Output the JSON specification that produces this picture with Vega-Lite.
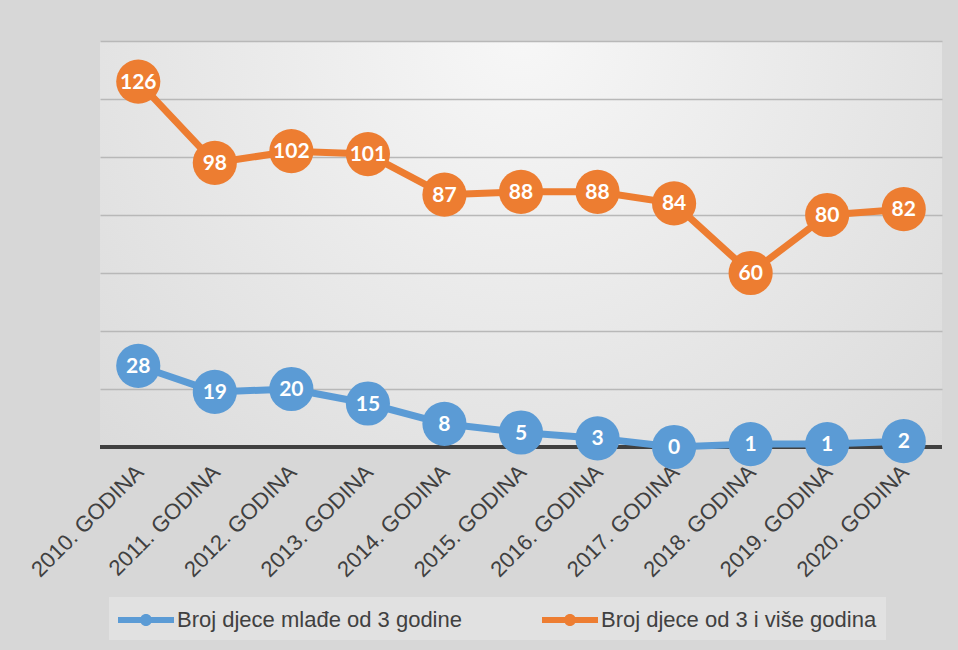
{
  "$schema": "https://vega.github.io/schema/vega-lite/v6.json",
  "autosize": {"type": "none"},
  "width": 842,
  "height": 406,
  "padding": {"left": 100, "top": 41, "right": 16, "bottom": 203},
  "background": "#d7d7d7",
  "config": {
    "view": {
      "stroke": null,
      "fill": {"gradient": "radial", "x1": 0.5, "y1": 0.25, "r1": 0, "x2": 0.5, "y2": 0.25, "r2": 0.75,
        "stops": [{"offset": 0, "color": "#f7f7f7"}, {"offset": 1, "color": "#d9d9d9"}]}
    },
    "legend": {
      "title": null, "orient": "none", "legendX": 9, "legendY": 556, "direction": "horizontal",
      "fillColor": "#e1e1e1", "padding": 9,
      "symbolType": "M-1,-0.21L3,-0.21L3,0.21L-1,0.21Z M0.57,0A0.43,0.43,0,1,1,1.43,0A0.43,0.43,0,1,1,0.57,0Z",
      "symbolSize": 784, "symbolStrokeWidth": 0, "symbolOpacity": 1,
      "labelFont": "Liberation Sans", "labelFontSize": 22, "labelColor": "#404040",
      "labelOffset": 31, "columnPadding": 80, "labelLimit": 400
    }
  },
  "data": {
    "values": [
      {"godina": "2010. GODINA", "serija": "Broj djece mlađe od 3 godine", "broj": 28},
      {"godina": "2011. GODINA", "serija": "Broj djece mlađe od 3 godine", "broj": 19},
      {"godina": "2012. GODINA", "serija": "Broj djece mlađe od 3 godine", "broj": 20},
      {"godina": "2013. GODINA", "serija": "Broj djece mlađe od 3 godine", "broj": 15},
      {"godina": "2014. GODINA", "serija": "Broj djece mlađe od 3 godine", "broj": 8},
      {"godina": "2015. GODINA", "serija": "Broj djece mlađe od 3 godine", "broj": 5},
      {"godina": "2016. GODINA", "serija": "Broj djece mlađe od 3 godine", "broj": 3},
      {"godina": "2017. GODINA", "serija": "Broj djece mlađe od 3 godine", "broj": 0},
      {"godina": "2018. GODINA", "serija": "Broj djece mlađe od 3 godine", "broj": 1},
      {"godina": "2019. GODINA", "serija": "Broj djece mlađe od 3 godine", "broj": 1},
      {"godina": "2020. GODINA", "serija": "Broj djece mlađe od 3 godine", "broj": 2},
      {"godina": "2010. GODINA", "serija": "Broj djece od 3 i više godina", "broj": 126},
      {"godina": "2011. GODINA", "serija": "Broj djece od 3 i više godina", "broj": 98},
      {"godina": "2012. GODINA", "serija": "Broj djece od 3 i više godina", "broj": 102},
      {"godina": "2013. GODINA", "serija": "Broj djece od 3 i više godina", "broj": 101},
      {"godina": "2014. GODINA", "serija": "Broj djece od 3 i više godina", "broj": 87},
      {"godina": "2015. GODINA", "serija": "Broj djece od 3 i više godina", "broj": 88},
      {"godina": "2016. GODINA", "serija": "Broj djece od 3 i više godina", "broj": 88},
      {"godina": "2017. GODINA", "serija": "Broj djece od 3 i više godina", "broj": 84},
      {"godina": "2018. GODINA", "serija": "Broj djece od 3 i više godina", "broj": 60},
      {"godina": "2019. GODINA", "serija": "Broj djece od 3 i više godina", "broj": 80},
      {"godina": "2020. GODINA", "serija": "Broj djece od 3 i više godina", "broj": 82}
    ]
  },
  "encoding": {
    "x": {
      "field": "godina", "type": "ordinal", "title": null,
      "axis": {"domain": false, "ticks": false, "labelAngle": -45, "labelFont": "Liberation Sans",
        "labelFontSize": 22, "labelColor": "#404040", "labelPadding": 14, "labelOffset": -6, "grid": false}
    },
    "y": {
      "field": "broj", "type": "quantitative", "title": null,
      "scale": {"domain": [0, 140], "nice": false},
      "axis": {"domain": false, "ticks": false, "labels": false, "grid": true,
        "values": [20, 40, 60, 80, 100, 120, 140], "gridColor": "#b8b8b8", "gridWidth": 1.5}
    }
  },
  "layer": [
    {
      "mark": {"type": "rule", "color": "#404040", "strokeWidth": 4},
      "encoding": {"y": {"datum": 0}, "x": null}
    },
    {
      "mark": {"type": "line", "strokeWidth": 7, "strokeCap": "round", "strokeJoin": "round"},
      "encoding": {
        "stroke": {"field": "serija", "type": "nominal",
          "scale": {"domain": ["Broj djece mlađe od 3 godine", "Broj djece od 3 i više godina"], "range": ["#5b9bd5", "#ed7d31"]}}
      }
    },
    {
      "mark": {"type": "circle", "size": 1950, "opacity": 1},
      "encoding": {
        "color": {"field": "serija", "type": "nominal",
          "scale": {"domain": ["Broj djece mlađe od 3 godine", "Broj djece od 3 i više godina"], "range": ["#5b9bd5", "#ed7d31"]}}
      }
    },
    {
      "mark": {"type": "text", "color": "white", "font": "Lato", "fontWeight": "bold", "fontSize": 21, "align": "center", "baseline": "middle", "dy": 1},
      "encoding": {"text": {"field": "broj", "type": "quantitative"}}
    }
  ]
}
